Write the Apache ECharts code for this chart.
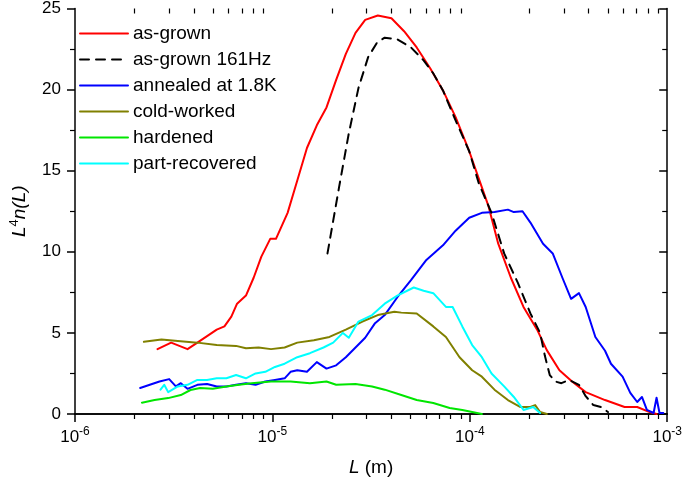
<!DOCTYPE html>
<html><head><meta charset="utf-8">
<script src="https://cdn.jsdelivr.net/npm/echarts@6/dist/echarts.min.js"></script>
<style>html,body{margin:0;padding:0;background:#fff}#c{width:685px;height:482px}</style>
</head><body><div id="c"></div>
<script>
// x values are log10(L / m), y values are L^4 n(L)
const seriesNames = ['as-grown', 'as-grown 161Hz', 'annealed at 1.8K', 'cold-worked', 'hardened', 'part-recovered'];

const asGrownLogL = [-5.582,-5.513,-5.430,-5.380,-5.331,-5.282,-5.243,-5.208,-5.179,-5.134,-5.095,-5.056,-5.011,-4.982,-4.923,-4.874,-4.825,-4.775,-4.726,-4.677,-4.628,-4.579,-4.530,-4.466,-4.397,-4.333,-4.269,-4.200,-4.136,-4.072,-4.003,-3.954,-3.905,-3.856,-3.792,-3.728,-3.659,-3.610,-3.546,-3.482,-3.413,-3.315,-3.216,-3.152,-3.089,-3.054];
const asGrownVal  = [4.0,4.4,4.0,4.4,4.8,5.2,5.4,6.0,6.8,7.3,8.4,9.7,10.8,10.8,12.4,14.4,16.4,17.8,18.9,20.6,22.2,23.5,24.3,24.57,24.4,23.6,22.6,21.3,19.95,18.3,16.2,14.5,12.8,10.5,8.4,6.6,5.2,3.94,2.7,2.0,1.35,0.86,0.43,0.43,0.12,0.0];

const asGrown161LogL = [-4.721,-4.662,-4.613,-4.564,-4.515,-4.470,-4.431,-4.367,-4.298,-4.234,-4.185,-4.136,-4.072,-4.003,-3.954,-3.890,-3.826,-3.757,-3.693,-3.644,-3.620,-3.595,-3.566,-3.536,-3.497,-3.447,-3.413,-3.374,-3.334,-3.300];
const asGrown161Val  = [9.9,14.0,17.3,20.1,22.0,22.9,23.2,23.1,22.6,21.8,21.0,19.95,18.1,16.2,14.2,12.4,9.9,8.1,6.2,5.0,3.6,2.4,2.0,1.9,2.1,1.8,1.1,0.55,0.43,0.12];

const annealedLogL = [-5.670,-5.621,-5.572,-5.523,-5.489,-5.464,-5.430,-5.380,-5.331,-5.282,-5.233,-5.184,-5.134,-5.085,-5.036,-4.987,-4.938,-4.908,-4.874,-4.825,-4.775,-4.726,-4.677,-4.628,-4.579,-4.530,-4.480,-4.431,-4.367,-4.298,-4.220,-4.136,-4.072,-4.003,-3.939,-3.875,-3.807,-3.777,-3.733,-3.693,-3.629,-3.580,-3.531,-3.487,-3.447,-3.413,-3.364,-3.315,-3.285,-3.226,-3.187,-3.152,-3.128,-3.103,-3.069,-3.054,-3.039,-3.020];
const annealedVal  = [1.6,1.8,2.0,2.15,1.7,1.9,1.55,1.8,1.85,1.7,1.7,1.8,1.9,1.8,2.0,2.1,2.2,2.6,2.7,2.6,3.2,2.8,3.0,3.5,4.1,4.7,5.6,6.1,7.2,8.25,9.5,10.4,11.3,12.1,12.4,12.45,12.6,12.45,12.5,11.8,10.5,9.9,8.4,7.1,7.45,6.6,4.75,3.9,3.1,2.3,1.3,0.74,1.05,0.25,0.06,1.0,0.06,0.06];

const coldWorkedLogL = [-5.651,-5.562,-5.479,-5.380,-5.282,-5.184,-5.134,-5.070,-5.007,-4.938,-4.874,-4.790,-4.711,-4.628,-4.544,-4.466,-4.382,-4.347,-4.269,-4.185,-4.121,-4.052,-3.988,-3.939,-3.875,-3.807,-3.743,-3.693,-3.669,-3.644,-3.610];
const coldWorkedVal  = [4.45,4.6,4.5,4.4,4.25,4.2,4.05,4.1,4.0,4.1,4.4,4.55,4.75,5.2,5.7,6.1,6.3,6.25,6.2,5.4,4.75,3.5,2.7,2.3,1.5,0.86,0.43,0.43,0.55,0.12,0.0];

const hardenedLogL = [-5.661,-5.597,-5.528,-5.464,-5.415,-5.366,-5.302,-5.233,-5.169,-5.105,-5.007,-4.908,-4.810,-4.726,-4.677,-4.579,-4.495,-4.431,-4.347,-4.269,-4.185,-4.102,-4.038,-3.988,-3.939];
const hardenedVal  = [0.7,0.86,0.98,1.17,1.48,1.6,1.55,1.7,1.8,1.9,2.0,2.0,1.9,2.0,1.8,1.85,1.7,1.5,1.17,0.86,0.68,0.37,0.25,0.12,0.0];

const partRecLogL = [-5.567,-5.548,-5.528,-5.479,-5.430,-5.380,-5.331,-5.282,-5.233,-5.184,-5.134,-5.085,-5.036,-4.987,-4.938,-4.874,-4.810,-4.741,-4.692,-4.643,-4.613,-4.564,-4.495,-4.431,-4.367,-4.284,-4.234,-4.185,-4.121,-4.087,-4.038,-3.988,-3.939,-3.890,-3.826,-3.777,-3.728,-3.679,-3.644];
const partRecVal  = [1.5,1.8,1.35,1.7,1.8,2.1,2.1,2.2,2.2,2.4,2.2,2.5,2.6,2.9,3.1,3.5,3.75,4.1,4.4,5.0,4.7,5.7,6.1,6.8,7.3,7.8,7.6,7.45,6.6,6.6,5.4,4.25,3.5,2.5,1.7,1.05,0.25,0.43,0.06];

// x-axis tick positions: decades and the 2..9 sub-decade minor ticks
const majorDecades = [-6, -5, -4, -3];
const minorMantissas = [2, 3, 4, 5, 6, 7, 8, 9];

const colors = ['#ff0000', '#000000', '#0000ff', '#808000', '#00e600', '#00ffff'];
const xList = [asGrownLogL, asGrown161LogL, annealedLogL, coldWorkedLogL, hardenedLogL, partRecLogL];
const yList = [asGrownVal, asGrown161Val, annealedVal, coldWorkedVal, hardenedVal, partRecVal];

const FONT = 'Liberation Sans';
const pairs = (xs, ys) => xs.map((lx, i) => [Math.pow(10, lx), ys[i]]);
const minorTickValues = [];
majorDecades.slice(0, -1).forEach(d => minorMantissas.forEach(m => minorTickValues.push(m * Math.pow(10, d))));

const series = seriesNames.map((name, k) => ({
  name, type: 'line', data: pairs(xList[k], yList[k]),
  showSymbol: false, symbol: 'none', smooth: false,
  lineStyle: { color: colors[k], width: 2, type: k === 1 ? [9, 7] : 'solid', join: 'round', cap: 'round' },
  itemStyle: { color: colors[k] },
  z: k === 1 ? 4 : 3
}));

const axisLineStyle = { color: '#000', width: 1.5 };
const tickStyle = { color: '#000', width: 1.5 };
const minorStyle = { color: '#000', width: 1.2 };
const expFmt = v => '{b|10}{s|' + Math.round(Math.log10(v)) + '}';
const logBase = { type: 'log', logBase: 10, min: 1e-6, max: 1e-3, splitLine: { show: false }, minorTick: { show: false } };

const chart = echarts.init(document.getElementById('c'), null, { renderer: 'canvas' });
chart.setOption({
  animation: false,
  backgroundColor: '#fff',
  textStyle: { fontFamily: FONT },
  grid: { left: 61, right: 14, top: 8, bottom: 68, containLabel: false },
  legend: {
    left: 74, top: 19, orient: 'vertical', itemWidth: 48, itemHeight: 14, itemGap: 7,
    data: seriesNames,
    itemStyle: { opacity: 0 },
    textStyle: { fontFamily: FONT, fontSize: 19, color: '#000' }
  },
  xAxis: [
    Object.assign({}, logBase, { position: 'bottom',
      name: '{i|L}{n| (m)}', nameLocation: 'middle', nameGap: 44,
      nameTextStyle: { rich: { i: { fontFamily: FONT, fontSize: 19, fontStyle: 'italic', color: '#000' }, n: { fontFamily: FONT, fontSize: 19, color: '#000' } } },
      axisLine: { lineStyle: axisLineStyle },
      axisTick: { show: true, inside: false, length: 8, lineStyle: tickStyle },
      axisLabel: { margin: 12, formatter: expFmt,
        rich: { b: { fontFamily: FONT, fontSize: 17, color: '#000', lineHeight: 22 },
                s: { fontFamily: FONT, fontSize: 12, color: '#000', verticalAlign: 'top', lineHeight: 12 } } }
    }),
    Object.assign({}, logBase, { position: 'top',
      axisLine: { lineStyle: axisLineStyle },
      axisTick: { show: true, inside: true, length: 8, lineStyle: tickStyle },
      axisLabel: { show: false }
    }),
    Object.assign({}, logBase, { position: 'bottom',
      axisLine: { show: false },
      axisTick: { show: true, inside: false, length: 5, lineStyle: minorStyle, customValues: minorTickValues },
      axisLabel: { show: false }
    }),
    Object.assign({}, logBase, { position: 'top',
      axisLine: { show: false },
      axisTick: { show: true, inside: true, length: 5, lineStyle: minorStyle, customValues: minorTickValues },
      axisLabel: { show: false }
    })
  ],
  yAxis: [
    { type: 'value', min: 0, max: 25, interval: 5, position: 'left',
      name: '{i|L}{s|4}{i|n(L)}', nameLocation: 'middle', nameGap: 43,
      nameTextStyle: { rich: {
        i: { fontFamily: FONT, fontSize: 19, fontStyle: 'italic', color: '#000', lineHeight: 24 },
        s: { fontFamily: FONT, fontSize: 13, color: '#000', verticalAlign: 'top', lineHeight: 13 } } },
      axisLine: { show: true, lineStyle: axisLineStyle },
      axisTick: { show: true, inside: false, length: 8, lineStyle: tickStyle },
      minorTick: { show: true, splitNumber: 2, length: 5, lineStyle: minorStyle },
      splitLine: { show: false },
      axisLabel: { margin: 14, color: '#000', fontFamily: FONT, fontSize: 17 }
    },
    { type: 'value', min: 0, max: 25, interval: 5, position: 'right',
      axisLine: { show: true, lineStyle: axisLineStyle },
      axisTick: { show: true, inside: true, length: 8, lineStyle: tickStyle },
      minorTick: { show: true, splitNumber: 2, length: 5, lineStyle: minorStyle },
      splitLine: { show: false }, axisLabel: { show: false }
    }
  ],
  series
});
</script></body></html>
